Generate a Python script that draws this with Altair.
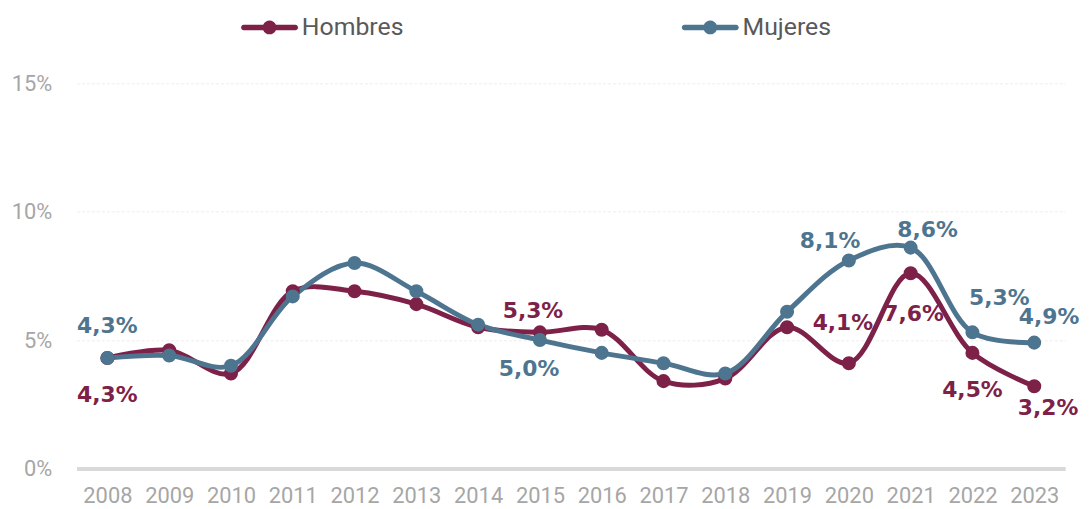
import altair as alt
import pandas as pd

years = [str(y) for y in range(2008, 2024)]
hombres = [4.3, 4.6, 3.7, 6.9, 6.9, 6.4, 5.5, 5.3, 5.4, 3.4, 3.5, 5.5, 4.1, 7.6, 4.5, 3.2]
mujeres = [4.3, 4.4, 4.0, 6.7, 8.0, 6.9, 5.6, 5.0, 4.5, 4.1, 3.7, 6.1, 8.1, 8.6, 5.3, 4.9]
series_names = ["Hombres", "Mujeres"]
colors = ["#7D2148", "#4E7590"]

# labelled points (series, year)
labelled = [
    ("Hombres", "2008"), ("Hombres", "2015"), ("Hombres", "2020"), ("Hombres", "2021"),
    ("Hombres", "2022"), ("Hombres", "2023"),
    ("Mujeres", "2008"), ("Mujeres", "2015"), ("Mujeres", "2020"), ("Mujeres", "2021"),
    ("Mujeres", "2022"), ("Mujeres", "2023"),
]

# label placement (style only): pixel offsets from the point
label_offsets = {
    ("Hombres", "2008"): (0, 37), ("Hombres", "2015"): (-7, -21), ("Hombres", "2020"): (-6, -40),
    ("Hombres", "2021"): (3, 41), ("Hombres", "2022"): (0, 37), ("Hombres", "2023"): (14, 22),
    ("Mujeres", "2008"): (0, -32), ("Mujeres", "2015"): (-11, 29), ("Mujeres", "2020"): (-19, -20),
    ("Mujeres", "2021"): (17, -18), ("Mujeres", "2022"): (27, -35), ("Mujeres", "2023"): (15, -26),
}

rows = []
for name, vals in zip(series_names, [hombres, mujeres]):
    for y, v in zip(years, vals):
        rows.append({"year": y, "serie": name, "value": v})
df = pd.DataFrame(rows)

legend_path = (
    "M -0.91,-0.096 L -0.225,-0.096 A 0.245,0.245 0 0,1 0.225,-0.096 L 0.91,-0.096 "
    "A 0.096,0.096 0 0,1 0.91,0.096 L 0.225,0.096 A 0.245,0.245 0 0,1 -0.225,0.096 "
    "L -0.91,0.096 A 0.096,0.096 0 0,1 -0.91,-0.096 Z"
)

x_enc = alt.X(
    "year:O",
    scale=alt.Scale(type="point", padding=0.5),
    axis=alt.Axis(
        title=None, labelAngle=0, labelFont="Roboto", labelFontSize=22, labelColor="#A6A6A6",
        ticks=False, domain=True, domainColor="#D9D9D9", domainWidth=4, labelPadding=17,
        grid=False,
    ),
)
y_enc = alt.Y(
    "value:Q",
    scale=alt.Scale(domain=[0, 15], nice=False),
    axis=alt.Axis(
        title=None, values=[0, 5, 10, 15], labelExpr="datum.value + '%'", labelFont="Roboto",
        labelFontSize=22, labelColor="#A6A6A6", ticks=False, domain=False, labelPadding=25,
        gridColor="#EDEDED", gridWidth=1, gridDash=[3, 2],
    ),
)
color_scale = alt.Scale(domain=series_names, range=colors)
legend = alt.Legend(
    title=None, orient="none", direction="horizontal", legendX=166, legendY=-85,
    symbolType=legend_path, symbolSize=3249, symbolStrokeWidth=0, symbolOpacity=1,
    labelFont="Roboto", labelFontSize=25, labelColor="#595959", labelOffset=4,
    columnPadding=279, padding=0,
)
color_enc = alt.Color("serie:N", scale=color_scale, legend=legend)

base = alt.Chart(df)

lines = base.mark_line(interpolate="catmull-rom", strokeWidth=5, strokeCap="round").encode(
    x=x_enc, y=y_enc, color=color_enc, order=alt.Order("year:O"),
)

points = base.mark_circle(size=200, opacity=1).encode(
    x=x_enc, y=y_enc, color=color_enc,
)

layers = [lines, points]
for (s, yr) in labelled:
    dx, dy = label_offsets[(s, yr)]
    col = colors[series_names.index(s)]
    t = base.transform_filter(
        (alt.datum.serie == s) & (alt.datum.year == yr)
    ).transform_calculate(
        label="replace(format(datum.value, '.1f'), '.', ',') + '%'"
    ).mark_text(
        font="DejaVu Sans", fontWeight="bold", fontSize=22, color=col, dx=dx, dy=dy,
        align="center", baseline="middle",
    ).encode(x=x_enc, y=y_enc, text="label:N")
    layers.append(t)

chart = alt.layer(*layers).properties(
    width=996, height=388,
    padding={"left": 69, "top": 74, "right": 17, "bottom": 38},
    autosize=alt.AutoSizeParams(type="none"),
).configure_view(stroke=None)

chart.save("out.html", embed_options={"renderer": "svg", "actions": False})
